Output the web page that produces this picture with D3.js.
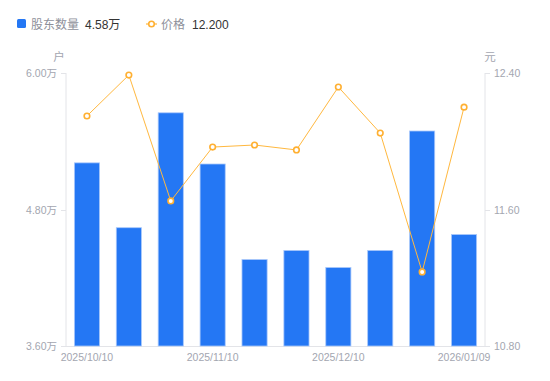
<!DOCTYPE html>
<html><head><meta charset="utf-8">
<script src="https://cdn.jsdelivr.net/npm/d3@7"></script>
<style>body{margin:0;background:#fff;}svg{display:block;font-family:"Liberation Sans","Noto Sans CJK SC",sans-serif;}</style>
</head><body><svg id="c" width="550" height="381"></svg>
<script>
const dates = ["2025/10/10","2025/10/20","2025/10/31","2025/11/10","2025/11/20","2025/11/28","2025/12/10","2025/12/19","2025/12/31","2026/01/09"];
const holders = [5.21, 4.64, 5.65, 5.20, 4.36, 4.44, 4.29, 4.44, 5.49, 4.58];
const prices = [12.148, 12.388, 11.650, 11.966, 11.978, 11.949, 12.318, 12.048, 11.234, 12.200];
const leftTicks = [3.6, 4.8, 6.0];
const rightTicks = [10.8, 11.6, 12.4];
const shownDates = ["2025/10/10","2025/11/10","2025/12/10","2026/01/09"];

const svg = d3.select("#c");
const L = 66, R = 485, T = 73, B = 346;
const x = d3.scaleBand().domain(dates).range([L, R]).paddingInner(0.4).paddingOuter(0.2);
const yL = d3.scaleLinear().domain([3.6, 6.0]).range([B, T]);
const yR = d3.scaleLinear().domain([10.8, 12.4]).range([B, T]);
const gray = "#a3a6b0", axisCol = "#e3e4e8";

svg.append("line").attr("x1", L).attr("x2", L).attr("y1", T).attr("y2", B).attr("stroke", axisCol);
svg.append("line").attr("x1", R).attr("x2", R).attr("y1", T).attr("y2", B).attr("stroke", axisCol);
svg.append("line").attr("x1", L).attr("x2", R).attr("y1", B+0.5).attr("y2", B+0.5).attr("stroke", axisCol);

leftTicks.forEach(v => {
  const y = Math.round(yL(v)) + 0.5;
  svg.append("line").attr("x1", L-5).attr("x2", L).attr("y1", y).attr("y2", y).attr("stroke", axisCol);
  svg.append("text").attr("x", L-9).attr("y", y).attr("dy", "0.35em").attr("text-anchor", "end")
    .attr("font-size", 10.5).attr("fill", gray).text(v.toFixed(2) + "万");
});
rightTicks.forEach(v => {
  const y = Math.round(yR(v)) + 0.5;
  svg.append("line").attr("x1", R).attr("x2", R+5).attr("y1", y).attr("y2", y).attr("stroke", axisCol);
  svg.append("text").attr("x", R+9).attr("y", y).attr("dy", "0.35em").attr("text-anchor", "start")
    .attr("font-size", 10.5).attr("fill", gray).text(v.toFixed(2));
});
svg.append("text").attr("x", 59).attr("y", 61).attr("text-anchor", "middle").attr("font-size", 11.5).attr("fill", gray).text("户");
svg.append("text").attr("x", 490).attr("y", 61).attr("text-anchor", "middle").attr("font-size", 11.5).attr("fill", gray).text("元");

shownDates.forEach(d => {
  svg.append("text").attr("x", x(d) + x.bandwidth()/2).attr("y", 361).attr("text-anchor", "middle")
    .attr("font-size", 10.5).attr("fill", gray).text(d);
});

svg.selectAll("rect.bar").data(holders).join("rect").attr("class", "bar")
  .attr("x", (d,i) => x(dates[i])).attr("width", x.bandwidth())
  .attr("y", d => yL(d)).attr("height", d => B - yL(d))
  .attr("fill", "#2477f4").attr("stroke", "#a9c8fb").attr("stroke-width", 0.8);

const line = d3.line().x((d,i) => x(dates[i]) + x.bandwidth()/2).y(d => yR(d));
svg.append("path").datum(prices).attr("d", line).attr("fill", "none").attr("stroke", "#ffb83f").attr("stroke-width", 1);
svg.selectAll("circle.pt").data(prices).join("circle").attr("class", "pt")
  .attr("cx", (d,i) => x(dates[i]) + x.bandwidth()/2).attr("cy", d => yR(d)).attr("r", 2.8)
  .attr("fill", "#fff").attr("stroke", "#ffb032").attr("stroke-width", 1.6);

svg.append("rect").attr("x", 17).attr("y", 19).attr("width", 9).attr("height", 9).attr("rx", 1.5).attr("fill", "#2477f4");
svg.append("text").attr("x", 31).attr("y", 28.5).attr("font-size", 12).attr("fill", "#8e909a").text("股东数量");
svg.append("text").attr("x", 85).attr("y", 28.5).attr("font-size", 12).attr("fill", "#333").text(holders[holders.length-1].toFixed(2) + "万");
svg.append("line").attr("x1", 146).attr("x2", 157).attr("y1", 24).attr("y2", 24).attr("stroke", "#ffb83f").attr("stroke-width", 1.2);
svg.append("circle").attr("cx", 151.5).attr("cy", 24).attr("r", 2.8).attr("fill", "#fff").attr("stroke", "#ffb032").attr("stroke-width", 1.6);
svg.append("text").attr("x", 161).attr("y", 28.5).attr("font-size", 12).attr("fill", "#8e909a").text("价格");
svg.append("text").attr("x", 192).attr("y", 28.5).attr("font-size", 12).attr("fill", "#333").text(prices[prices.length-1].toFixed(3));
</script></body></html>
